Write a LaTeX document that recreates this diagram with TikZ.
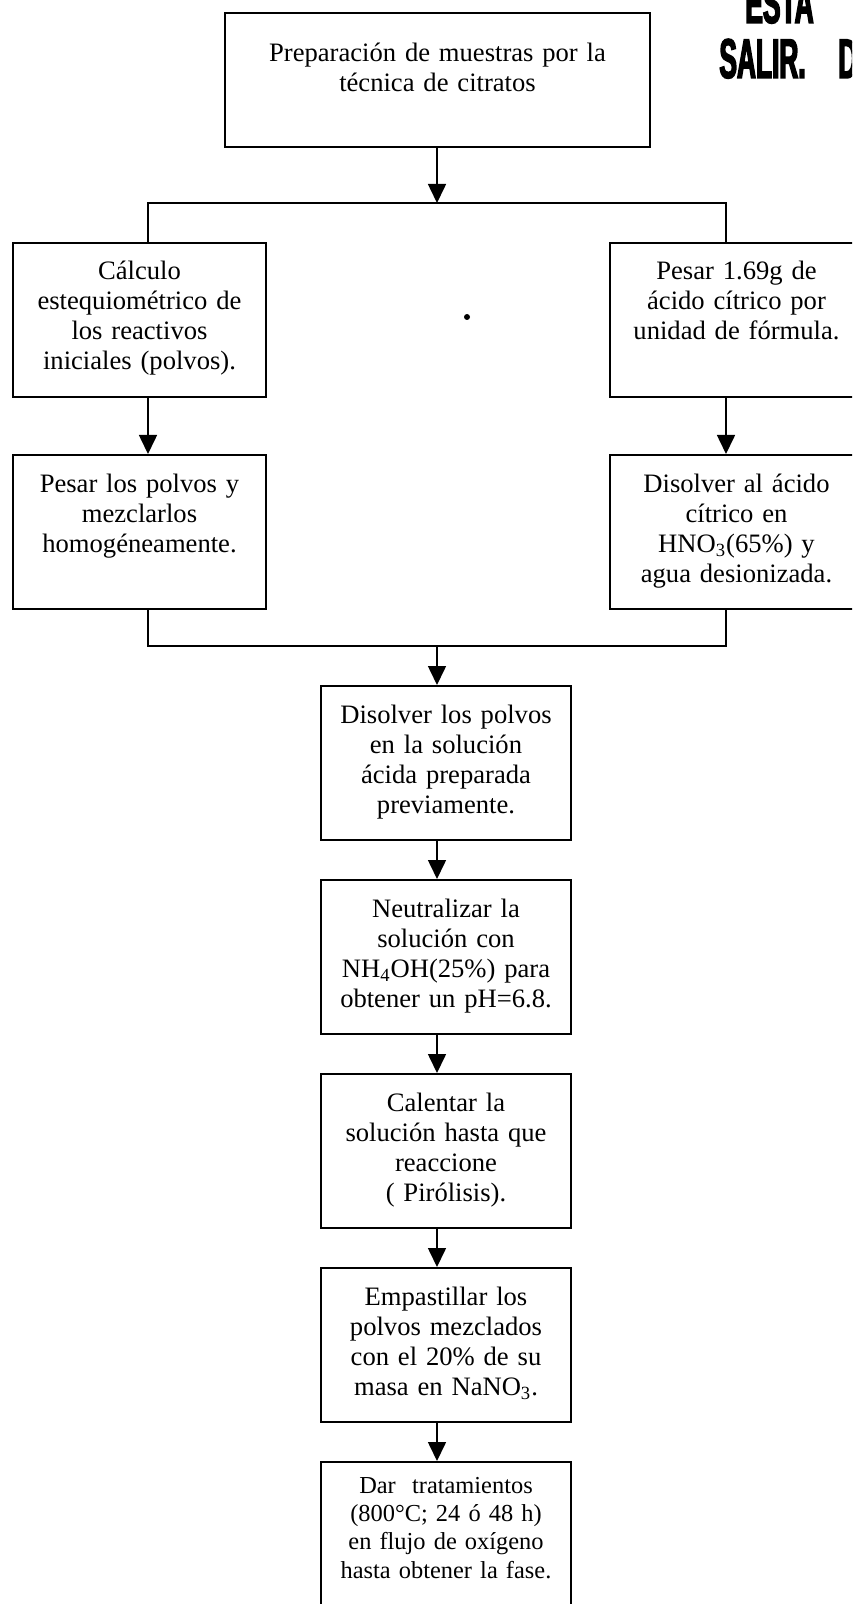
\documentclass[tikz,border=0pt]{standalone}
\usepackage{fontspec}
\setmainfont{Liberation Serif}
\newfontfamily\stampfont{Liberation Sans}[FakeStretch=0.47,FakeBold=2.5]
\usetikzlibrary{arrows.meta,positioning}
\newcommand{\stepfont}{\fontsize{13.3pt}{15pt}\selectfont}
\newcommand{\smallstepfont}{\fontsize{12.2pt}{14.2pt}\selectfont}
\tikzset{
  box/.style={draw,line width=1pt,anchor=north west,inner sep=0pt,align=center,
              font=\stepfont,text width=125pt,text height=18.5pt,text depth=58.5pt},
  boxw/.style={box,text width=126.5pt},
  ln/.style={line width=0.8pt},
  fl/.style={ln,-{Triangle[length=9.5pt,width=9pt]}},
  stamp/.style={font=\stampfont\bfseries\fontsize{28pt}{28pt}\selectfont,
                anchor=base west,inner sep=0pt},
}

\begin{document}
\begin{tikzpicture}[x=0.5pt,y=-0.5pt]
\useasboundingbox (0,0) rectangle (852,1604);
\clip (0,0) rectangle (852,1604);
\node[box,text width=212.5pt,text height=24.5pt,text depth=42.5pt] (prep) at (224,12)
  {Preparación de muestras por la\\ técnica de citratos};
\node[boxw] (calc) at (12,242) {Cálculo\\ estequiométrico de\\ los reactivos\\ iniciales (polvos).};
\node[boxw] (pesa) at (609,242) {Pesar 1.69g de\\ ácido cítrico por\\ unidad de fórmula.};
\node[boxw,below=28pt of calc] (mezc) {Pesar los polvos y\\ mezclarlos\\ homogéneamente.};
\node[boxw,below=28pt of pesa] (diso) {Disolver al ácido\\ cítrico en\\ HNO\textsubscript{3}(65\%) y\\ agua desionizada.};
\node[box] (disv) at (320,685) {Disolver los polvos\\ en la solución\\ ácida preparada\\ previamente.};
\node[box,below=19pt of disv] (neut) {Neutralizar la\\ solución con\\ NH\textsubscript{4}OH(25\%) para\\ obtener un pH=6.8.};
\node[box,below=19pt of neut] (calen) {Calentar la\\ solución hasta que\\ reaccione\\ ( Pirólisis).};
\node[box,below=19pt of calen] (empa) {Empastillar los\\ polvos mezclados\\ con el 20\% de su\\ masa en NaNO\textsubscript{3}.};
\node[box,below=19pt of empa,font=\smallstepfont,text height=15.5pt,text depth=61.5pt] (trat)
  {Dar\ \ tratamientos\\ (800°C; 24 ó 48 h)\\ en flujo de oxígeno\\ hasta obtener la fase.};
% stamp in the corner
\node[stamp] (esta) at (745,23) {ESTA};
\node[stamp] (salir) at (719,78) {SALIR.};
\node[stamp] (de) at (838,78) {D};
\fill (467,317) circle (1.5pt);
\coordinate (spl) at (437,203);
\coordinate (splL) at (148,203);
\coordinate (splR) at (726,203);
\coordinate (mrg) at (437,646);
\draw[fl] (spl |- prep.south) -- (spl);
\draw[ln] (splL |- calc.north) -- (splL) -- (splR) -- (splR |- pesa.north);
\draw[fl] (splL |- calc.south) -- (splL |- mezc.north);
\draw[fl] (splR |- pesa.south) -- (splR |- diso.north);
\draw[ln] (splL |- mezc.south) -- (splL |- mrg) -- (splR |- mrg) -- (splR |- diso.south);
\draw[fl] (mrg) -- (mrg |- disv.north);
\foreach \a/\b in {disv/neut,neut/calen,calen/empa,empa/trat}
  \draw[fl] (mrg |- \a.south) -- (mrg |- \b.north);
\end{tikzpicture}
\end{document}
